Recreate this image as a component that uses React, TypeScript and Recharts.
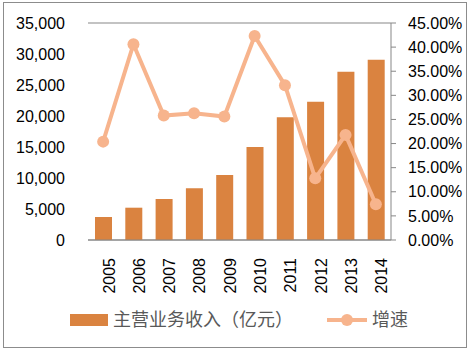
import { Bar, CartesianGrid, ComposedChart, Legend, Line, XAxis, YAxis } from "recharts";

const years = ["2005", "2006", "2007", "2008", "2009", "2010", "2011", "2012", "2013", "2014"];
const revenue = [3710, 5210, 6610, 8340, 10480, 15000, 19790, 22300, 27150, 29080];
const growth = [0.204, 0.406, 0.258, 0.263, 0.256, 0.423, 0.321, 0.128, 0.218, 0.074];
const leftTicks = [0, 5000, 10000, 15000, 20000, 25000, 30000, 35000];
const rightTicks = [0, 0.05, 0.1, 0.15, 0.2, 0.25, 0.3, 0.35, 0.4, 0.45];

const barName = "主营业务收入（亿元）";
const lineName = "增速";

const BAR_COLOR = "#DA8340";
const LINE_COLOR = "#F7B48D";
const FONT = "'Liberation Sans', Arial, sans-serif";

const data = years.map((year, i) => ({ year, revenue: revenue[i], growth: growth[i] }));

function ChartLegend() {
  return (
    <svg width={471} height={30} style={{ display: "block" }}>
      <rect x={70} y={9} width={38} height={12} fill={BAR_COLOR} />
      <text x={113} y={21} fontSize={18} fill="#595959" fontFamily="'Noto Sans CJK SC', sans-serif">
        {barName}
      </text>
      <line x1={327} y1={15} x2={367} y2={15} stroke={LINE_COLOR} strokeWidth={4} />
      <circle cx={347} cy={15} r={6} fill={LINE_COLOR} />
      <text x={372} y={21} fontSize={18} fill="#595959" fontFamily="'Noto Sans CJK SC', sans-serif">
        {lineName}
      </text>
    </svg>
  );
}

export default function App() {
  return (
    <div style={{ position: "absolute", left: 0, top: 0, width: 471, height: 351, background: "#fff" }}>
      <div
        style={{
          position: "absolute",
          left: 3,
          top: 2,
          width: 464,
          height: 346,
          border: "1px solid #8c8c8c",
          boxSizing: "border-box",
        }}
      />
      <ComposedChart
        width={471}
        height={351}
        data={data}
        margin={{ top: 23, right: 0, left: 0, bottom: 51 }}
        barCategoryGap="43%"
      >
        <CartesianGrid vertical={false} stroke="#878787" strokeWidth={1} />
        <XAxis
          dataKey="year"
          height={60}
          axisLine={{ stroke: "#878787" }}
          tickLine={false}
          tickSize={0}
          tickMargin={13}
          angle={-90}
          textAnchor="end"
          interval={0}
          tick={{ fill: "#000", fontSize: 16, fontFamily: FONT, dy: 5 }}
        />
        <YAxis
          yAxisId="left"
          width={88}
          domain={[0, 35000]}
          ticks={leftTicks}
          axisLine={false}
          tickLine={false}
          tickSize={0}
          tickMargin={23}
          tickFormatter={(v: number) => v.toLocaleString("en-US")}
          tick={{ fill: "#000", fontSize: 16, fontFamily: FONT }}
        />
        <YAxis
          yAxisId="right"
          orientation="right"
          width={80}
          domain={[0, 0.45]}
          ticks={rightTicks}
          axisLine={{ stroke: "#878787" }}
          tickLine={{ stroke: "#878787" }}
          tickSize={5}
          tickMargin={12}
          tickFormatter={(v: number) => (v * 100).toFixed(2) + "%"}
          tick={{ fill: "#000", fontSize: 16, fontFamily: FONT, textAnchor: "start" }}
        />
        <Bar
          yAxisId="left"
          dataKey="revenue"
          name={barName}
          fill={BAR_COLOR}
          barSize={17}
          isAnimationActive={false}
        />
        <Line
          yAxisId="right"
          dataKey="growth"
          name={lineName}
          stroke={LINE_COLOR}
          strokeWidth={4}
          dot={{ r: 6, fill: LINE_COLOR, stroke: "none" }}
          activeDot={false}
          isAnimationActive={false}
        />
        <Legend
          verticalAlign="middle"
          align="center"
          content={<ChartLegend />}
          wrapperStyle={{ top: 305, left: 0, width: 471 }}
        />
      </ComposedChart>
    </div>
  );
}
